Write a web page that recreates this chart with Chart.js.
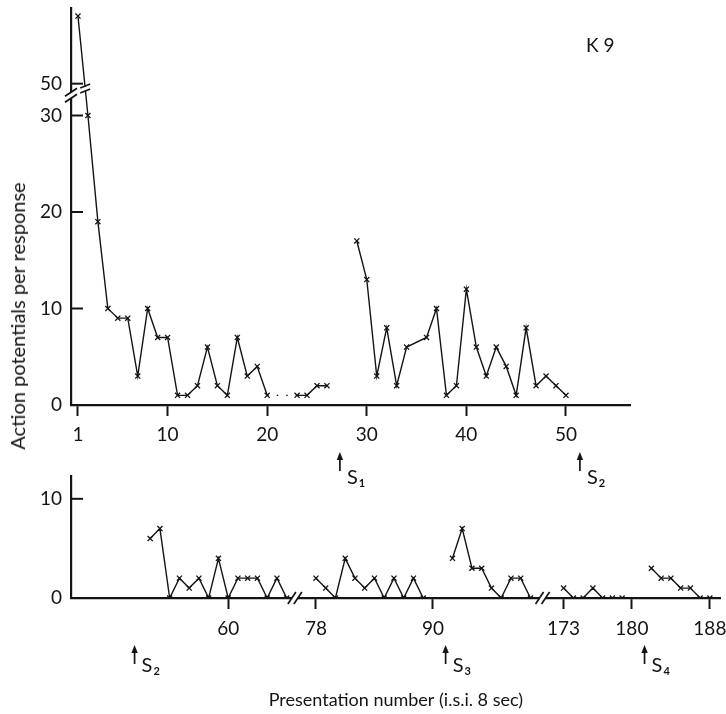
<!DOCTYPE html>
<html>
<head>
<meta charset="utf-8">
<title>K 9 - action potentials per response</title>
<script src="https://cdn.jsdelivr.net/npm/chart.js@4.4.1/dist/chart.umd.min.js"></script>
<style>
  html, body { margin: 0; padding: 0; background: #fff; }
  #wrap { position: relative; width: 726px; height: 714px; overflow: hidden; }
  #topChart { position: absolute; left: 0; top: 0; }
  #bottomChart { position: absolute; left: 0; top: 470px; }
  #yTitle {
    position: absolute; left: 17px; top: 316px;
    transform: translate(-50%, -50%) rotate(-90deg);
    white-space: nowrap; font: 20px Lato, "Open Sans", sans-serif; color: #141414;
  }
</style>
</head>
<body>
<div id="wrap">
  <canvas id="topChart" width="726" height="500"></canvas>
  <canvas id="bottomChart" width="726" height="244"></canvas>
  <div id="yTitle">Action potentials per response</div>
</div>
<script>
const INK = '#141414';

// Top panel: presentations 1-50 (null = no line across the gap)
const topNumbers = [1, 2, 3, 4, 5, 6, 7, 8, 9, 10, 11, 12, 13, 14, 15, 16, 17, 18, 19, 20,
                    23, 24, 25, 26, 27, 29, 30, 31, 32, 33, 34, 36, 37, 38, 39, 40,
                    41, 42, 43, 44, 45, 46, 47, 48, 49, 50];
const topValues = [57, 30, 19, 10, 9, 9, 3, 10, 7, 7, 1, 1, 2, 6, 2, 1, 7, 3, 4, 1,
                   1, 1, 2, 2, null, 17, 13, 3, 8, 2, 6, 7, 10, 1, 2, 12,
                   6, 3, 6, 4, 1, 8, 2, 3, 2, 1];
const topXTicks = [1, 10, 20, 30, 40, 50];
const topYTicks = [0, 10, 20, 30, 50];

// Bottom panel: presentations 52-188, the x axis is cut twice
const bottomNumbers = [52, 53, 54, 55, 56, 57, 58, 59, 60, 61, 62, 63, 64, 65, 66, 70,
                       78, 79, 80, 81, 82, 83, 84, 85, 86, 87, 88, 89, 91,
                       92, 93, 94, 95, 96, 97, 98, 99, 100, 120,
                       173, 174, 175, 176, 177, 178, 179, 181,
                       182, 183, 184, 185, 186, 187, 188];
const bottomValues = [6, 7, 0, 2, 1, 2, 0, 4, 0, 2, 2, 2, 0, 2, 0, null,
                      2, 1, 0, 4, 2, 1, 2, 0, 2, 0, 2, 0, null,
                      4, 7, 3, 3, 1, 0, 2, 2, 0, null,
                      1, 0, 0, 1, 0, 0, 0, null,
                      3, 2, 2, 1, 1, 0, 0];
const bottomXTicks = [60, 78, 90, 173, 180, 188];
const bottomYTicks = [0, 10];

// stimulus changes, marked with arrows under the axes
const topStimAt = [27.3, 51.4];
const topStimNames = ['1', '2'];
const bottomStimAt = [50.4, 91.3, 181.3];
const bottomStimNames = ['2', '3', '4'];

// top y axis is broken between 30 and 50
const Y_BREAK_AT = 50, Y_BREAK_SHIFT = 16.7;
function topY(v) {
    if (v === null) return null;
    return v >= Y_BREAK_AT ? v - Y_BREAK_SHIFT : v;
}

// bottom x axis: each piece after a cut is moved left
const xPieces = [[0, 0], [72, -9], [140, -78.6]];
function bottomX(n) {
    let shift = 0;
    xPieces.forEach(p => { if (n >= p[0]) shift = p[1]; });
    return n + shift;
}

const FONT = 'Lato, "Open Sans", sans-serif';
Chart.defaults.font.family = FONT;
Chart.defaults.font.size = 19;
Chart.defaults.color = INK;

// ---- small drawing helpers for the paper-style decorations ----
function innerTicks(ctx, ys, values) {
    ctx.save();
    ctx.strokeStyle = INK;
    ctx.lineWidth = 2;
    values.forEach(v => {
        const y = ys.getPixelForValue(v);
        ctx.beginPath();
        ctx.moveTo(ys.right, y);
        ctx.lineTo(ys.right + 12, y);
        ctx.stroke();
    });
    ctx.restore();
}

function slashPair(ctx, x, y, dx, dy, gapX, gapY) {
    ctx.save();
    ctx.strokeStyle = INK;
    ctx.lineWidth = 1.7;
    [-1, 1].forEach(k => {
        ctx.beginPath();
        ctx.moveTo(x + k * gapX - dx, y + k * gapY + dy);
        ctx.lineTo(x + k * gapX + dx, y + k * gapY - dy);
        ctx.stroke();
    });
    ctx.restore();
}

function stimArrow(ctx, x, tipY, name, textDrop) {
    ctx.save();
    ctx.strokeStyle = INK;
    ctx.fillStyle = INK;
    ctx.lineWidth = 1.7;
    ctx.beginPath();
    ctx.moveTo(x, tipY + 4);
    ctx.lineTo(x, tipY + 19);
    ctx.stroke();
    ctx.beginPath();
    ctx.moveTo(x, tipY);
    ctx.lineTo(x - 3.2, tipY + 8);
    ctx.lineTo(x + 3.2, tipY + 8);
    ctx.closePath();
    ctx.fill();
    ctx.textAlign = 'left';
    ctx.textBaseline = 'alphabetic';
    ctx.font = '20px ' + FONT;
    ctx.fillText('S', x + 7, tipY + textDrop);
    const w = ctx.measureText('S').width;
    ctx.font = 'bold 11px ' + FONT;
    ctx.fillText(name, x + 8 + w, tipY + textDrop + 3);
    ctx.restore();
}

const topDecor = {
    id: 'topDecor',
    afterDraw(chart) {
        const ctx = chart.ctx, xs = chart.scales.x, ys = chart.scales.y;
        innerTicks(ctx, ys, topYTicks.map(topY));

        // cut in the y axis
        const yb = ys.getPixelForValue(32.1);
        ctx.save();
        ctx.fillStyle = '#fff';
        ctx.fillRect(ys.right - 3, yb - 3, 6, 6);
        ctx.restore();
        slashPair(ctx, ys.right, yb, 6, 4, 0, 3);

        // cut in the line from presentation 1 to 2
        const pts = chart.getDatasetMeta(0).data;
        const yl = ys.getPixelForValue(32.8);
        const t = (yl - pts[0].y) / (pts[1].y - pts[0].y);
        const xl = pts[0].x + t * (pts[1].x - pts[0].x);
        ctx.save();
        ctx.fillStyle = '#fff';
        ctx.fillRect(xl - 2, yl - 2, 4, 4);
        ctx.restore();
        slashPair(ctx, xl, yl, 5, 2, 0, 2.5);

        ctx.save();
        ctx.fillStyle = INK;
        ctx.font = '19px ' + FONT;
        ctx.textAlign = 'left';
        ctx.textBaseline = 'middle';
        ctx.fillText('K 9', 586, 46);
        ctx.restore();

        topStimAt.forEach((n, i) => stimArrow(ctx, xs.getPixelForValue(n), 452, topStimNames[i], 32));
    }
};

const bottomDecor = {
    id: 'bottomDecor',
    afterDraw(chart) {
        const ctx = chart.ctx, xs = chart.scales.x, ys = chart.scales.y;
        innerTicks(ctx, ys, bottomYTicks);

        // the two cuts in the x axis
        const y0 = ys.getPixelForValue(0);
        [66.84, 92.24].forEach(p => {
            const x = xs.getPixelForValue(p);
            ctx.save();
            ctx.fillStyle = '#fff';
            ctx.fillRect(x - 3, y0 - 3, 6, 6);
            ctx.restore();
            slashPair(ctx, x, y0, 4, 6, 3, 0);
        });

        bottomStimAt.forEach((n, i) => stimArrow(ctx, xs.getPixelForValue(bottomX(n)), 175, bottomStimNames[i], 27));
    }
};

const lineLook = {
    borderColor: INK,
    borderWidth: 1.4,
    pointStyle: 'crossRot',
    pointRadius: 3.6,
    pointBorderWidth: 1.3,
    pointBorderColor: INK,
    tension: 0,
    fill: false
};

function axisBorder() {
    return { display: true, color: INK, width: 2.2 };
}

// Top chart
new Chart(document.getElementById('topChart'), {
    type: 'line',
    data: {
        datasets: [Object.assign({
            data: topNumbers.map((n, i) => ({ x: n, y: topY(topValues[i]) })),
            // presentations 21 and 22 are bridged with a dotted line
            segment: {
                borderDash: ctx => (ctx.p1.parsed.x - ctx.p0.parsed.x > 2.5 ? [1.5, 8] : undefined)
            }
        }, lineLook)]
    },
    options: {
        responsive: false,
        animation: false,
        devicePixelRatio: 1,
        layout: { padding: { left: 0, right: 96, top: 8, bottom: 0 } },
        plugins: { legend: { display: false }, tooltip: { enabled: false } },
        scales: {
            x: {
                type: 'linear', min: 0.3, max: 56.43,
                afterBuildTicks: s => { s.ticks = topXTicks.map(v => ({ value: v })); },
                afterFit: s => { s.height = 95; s.paddingLeft = 0; s.paddingRight = 0; },
                ticks: { autoSkip: false, maxRotation: 0, padding: 7, callback: v => String(v) },
                grid: { drawOnChartArea: false, drawTicks: true, tickLength: 11, tickWidth: 2, tickColor: INK },
                border: axisBorder()
            },
            y: {
                type: 'linear', min: 0, max: 41.14,
                afterBuildTicks: s => { s.ticks = topYTicks.map(v => ({ value: topY(v) })); },
                afterFit: s => { s.width = 71; s.paddingTop = 0; s.paddingBottom = 0; },
                ticks: { padding: 9, callback: (v, i) => String(topYTicks[i]) },
                grid: { drawOnChartArea: false, drawTicks: false },
                border: axisBorder()
            }
        }
    },
    plugins: [topDecor]
});

// Bottom chart
new Chart(document.getElementById('bottomChart'), {
    type: 'line',
    data: {
        datasets: [Object.assign({
            data: bottomNumbers.map((n, i) => ({ x: bottomX(n), y: bottomValues[i] }))
        }, lineLook)]
    },
    options: {
        responsive: false,
        animation: false,
        devicePixelRatio: 1,
        layout: { padding: { left: 0, right: 2, top: 6, bottom: 0 } },
        plugins: { legend: { display: false }, tooltip: { enabled: false } },
        scales: {
            x: {
                type: 'linear', min: 43.88, max: 110.51,
                afterBuildTicks: s => { s.ticks = bottomXTicks.map(n => ({ value: bottomX(n) })); },
                afterFit: s => { s.height = 116; s.paddingLeft = 0; s.paddingRight = 0; },
                ticks: { autoSkip: false, maxRotation: 0, padding: 8, callback: (v, i) => String(bottomXTicks[i]) },
                grid: { drawOnChartArea: false, drawTicks: true, tickLength: 11, tickWidth: 2, tickColor: INK },
                border: axisBorder(),
                title: {
                    display: true,
                    text: 'Presentation number (i.s.i. 8 sec)',
                    font: { size: 18 },
                    padding: { top: 0, bottom: 3 }
                }
            },
            y: {
                type: 'linear', min: 0, max: 12.3,
                afterBuildTicks: s => { s.ticks = bottomYTicks.map(v => ({ value: v })); },
                afterFit: s => { s.width = 71; s.paddingTop = 0; s.paddingBottom = 0; },
                ticks: { padding: 9, callback: (v, i) => String(bottomYTicks[i]) },
                grid: { drawOnChartArea: false, drawTicks: false },
                border: axisBorder()
            }
        }
    },
    plugins: [bottomDecor]
});
</script>
</body>
</html>
